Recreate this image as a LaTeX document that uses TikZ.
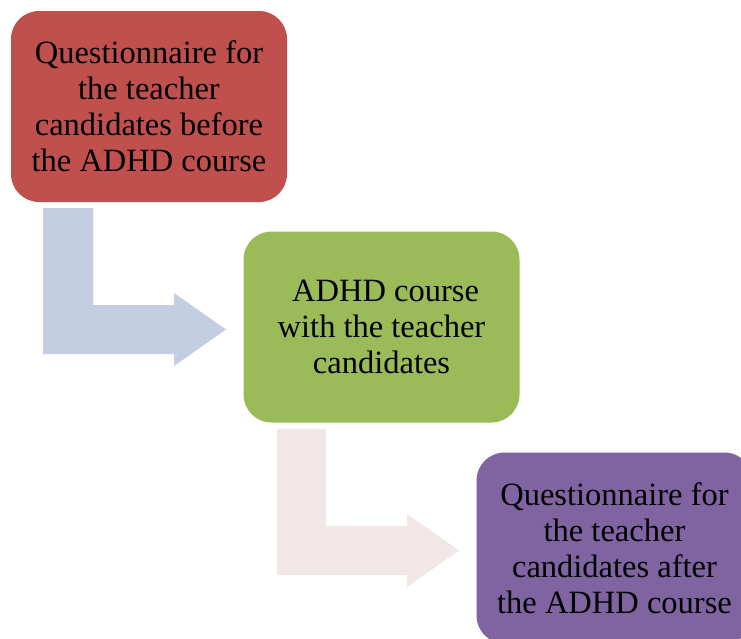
\documentclass[tikz,border=0pt]{standalone}
\usepackage{fontspec}
\setmainfont{Liberation Serif}
\definecolor{boxred}{HTML}{C0504D}
\definecolor{boxgreen}{HTML}{9BBB59}
\definecolor{boxpurple}{HTML}{8064A2}
\definecolor{arrblue}{HTML}{C3CEE2}
\definecolor{arrpink}{HTML}{F2E7E7}
\tikzset{
  stagebox/.style={rounded corners=28pt, minimum width=276pt, minimum height=191pt,
    inner sep=0pt, align=center, font=\fontsize{32.5}{36}\selectfont, text=black},
}
\begin{document}
\begin{tikzpicture}[x=1pt,y=-1pt]
\clip (0,0) rectangle (741,638);
\fill[white] (0,0) rectangle (741,638);
\node[stagebox, fill=boxred] (q1) at (149,106.5) {Questionnaire for\\the teacher\\candidates before\\the ADHD course};
\node[stagebox, fill=boxgreen] (course) at (381.5,327) {\ ADHD course\\with the teacher\\candidates};
\node[stagebox, fill=boxpurple] (q2) at (614.5,548) {Questionnaire for\\the teacher\\candidates after\\the ADHD course};
\fill[arrblue] (43,208) -- (93,208) -- (93,305) -- (174,305) -- (174,293) -- (226,329.5) -- (174,366) -- (174,354) -- (43,354) -- cycle;
\fill[arrpink] (277,429) -- (326,429) -- (326,526) -- (407,526) -- (407,514) -- (459,550.5) -- (407,587) -- (407,575) -- (277,575) -- cycle;
\end{tikzpicture}
\end{document}
